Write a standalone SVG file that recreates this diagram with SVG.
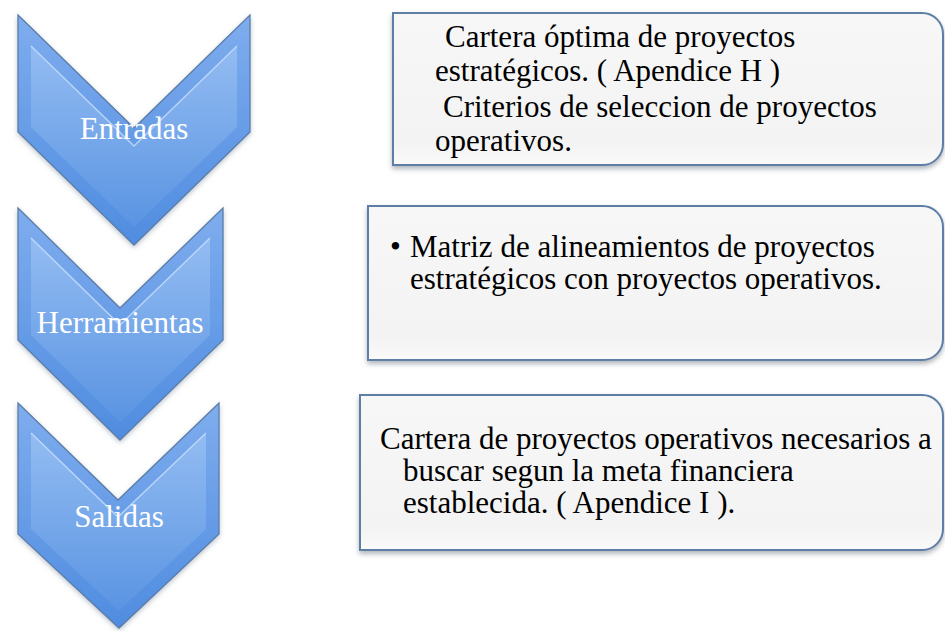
<svg xmlns="http://www.w3.org/2000/svg" width="945" height="631" viewBox="0 0 945 631">
  <defs>
    <linearGradient id="gOuter" x1="0" y1="0" x2="0" y2="1">
      <stop offset="0" stop-color="#7fadee"/>
      <stop offset="1" stop-color="#4f8ce0"/>
    </linearGradient>
    <linearGradient id="gInner" x1="0" y1="0" x2="0" y2="1">
      <stop offset="0" stop-color="#93bcf2"/>
      <stop offset="1" stop-color="#5a94e2"/>
    </linearGradient>
    <linearGradient id="gBox" x1="0" y1="0" x2="0" y2="1">
      <stop offset="0" stop-color="#f7f7f7"/>
      <stop offset="0.85" stop-color="#f3f3f3"/>
      <stop offset="1" stop-color="#fafafa"/>
    </linearGradient>
    <filter id="shChev" x="-10%" y="-10%" width="120%" height="120%">
      <feDropShadow dx="0" dy="2" stdDeviation="2.5" flood-color="#7a8a9c" flood-opacity="0.5"/>
    </filter>
    <filter id="shBox" x="-5%" y="-10%" width="110%" height="125%">
      <feDropShadow dx="0" dy="3" stdDeviation="2.5" flood-color="#7d8590" flood-opacity="0.6"/>
    </filter>
  </defs>
  <style>
    .outer { fill: url(#gOuter); stroke: #5b7da8; stroke-width: 1.3; filter: url(#shChev); }
    .inner { fill: url(#gInner); }
    .hl { fill: none; stroke: #c9e0fb; stroke-width: 1.5; stroke-opacity: 0.8; }
    .lbl { font-family: "Liberation Serif", "Times New Roman", serif; font-size: 31px; fill: #ffffff; text-anchor: middle; }
    .box { fill: url(#gBox); stroke: #5e7ea6; stroke-width: 2; filter: url(#shBox); }
    .txt { font-family: "Liberation Serif", "Times New Roman", serif; font-size: 31px; fill: #000000; }
  </style>

  <g id="chevron-entradas">
    <polygon class="outer" points="18,15 134,128 250,15 250,132 134,245 18,132"/>
    <polygon class="inner" points="31,46 134,146 237,46 237,127 134,227 31,127"/>
    <polyline class="hl" points="31,46 134,146 237,46"/>
    <text class="lbl" x="134" y="139">Entradas</text>
  </g>

  <g id="chevron-herramientas">
    <polygon class="outer" points="18,208 120,308 223,208 223,340 120,440 18,340"/>
    <polygon class="inner" points="31,238 120,325 210,238 210,335 120,422 31,335"/>
    <polyline class="hl" points="31,238 120,325 210,238"/>
    <text class="lbl" x="120" y="333">Herramientas</text>
  </g>

  <g id="chevron-salidas">
    <polygon class="outer" points="18,403 118,500 219,403 219,534 119,628 18,534"/>
    <polygon class="inner" points="31,433 118,517 206,433 206,529 119,611 31,529"/>
    <polyline class="hl" points="31,433 118,517 206,433"/>
    <text class="lbl" x="119" y="527">Salidas</text>
  </g>

  <g id="box-entradas">
    <path class="box" d="M393,13 H922 A21,21 0 0 1 943,34 V144 A21,21 0 0 1 922,165 H393 Z"/>
    <text class="txt" x="445" y="47">Cartera óptima de proyectos</text>
    <text class="txt" x="435" y="81">estratégicos. ( Apendice H )</text>
    <text class="txt" x="443" y="117">Criterios de seleccion de proyectos</text>
    <text class="txt" x="435" y="151">operativos.</text>
  </g>

  <g id="box-herramientas">
    <path class="box" d="M368,206 H922 A21,21 0 0 1 943,227 V339 A21,21 0 0 1 922,360 H368 Z"/>
    <text class="txt" x="390" y="257">•</text>
    <text class="txt" x="410" y="257">Matriz de alineamientos de proyectos</text>
    <text class="txt" x="410" y="289">estratégicos con proyectos operativos.</text>
  </g>

  <g id="box-salidas">
    <path class="box" d="M360,395 H922 A21,21 0 0 1 943,416 V529 A21,21 0 0 1 922,550 H360 Z"/>
    <text class="txt" x="380" y="449">Cartera de proyectos operativos necesarios a</text>
    <text class="txt" x="403" y="481">buscar segun la meta financiera</text>
    <text class="txt" x="403" y="513">establecida. ( Apendice I ).</text>
  </g>

  <g id="connectors"/>
</svg>
